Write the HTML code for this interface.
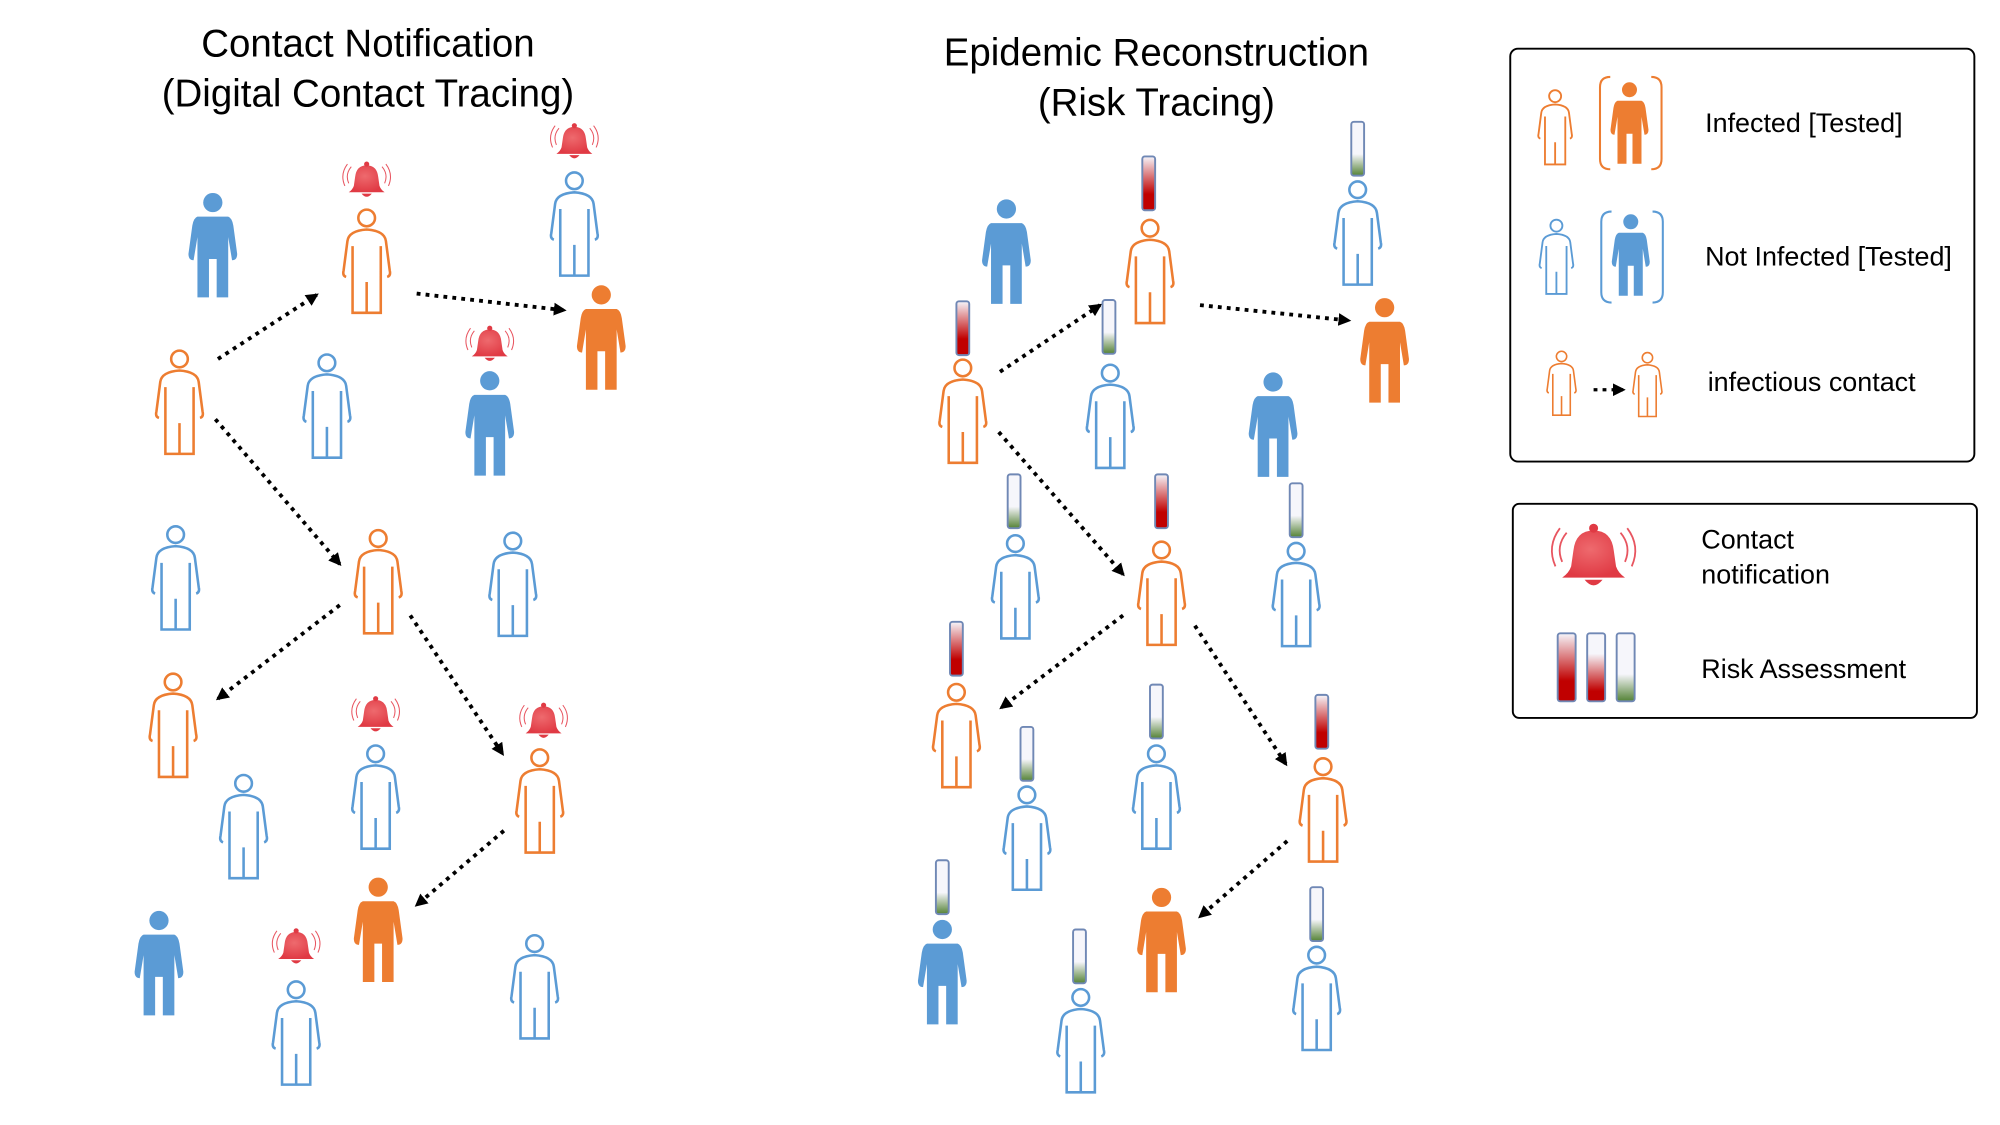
<!DOCTYPE html>
<html><head><meta charset="utf-8"><style>
html,body{margin:0;padding:0;background:#fff}
svg{display:block}
text{font-family:"Liberation Sans",sans-serif;fill:#000}
</style></head><body>
<svg id="fig" width="2000" height="1125" viewBox="0 0 1560 877.5" xmlns="http://www.w3.org/2000/svg">
<defs>
<marker id="ah" markerWidth="10" markerHeight="10" refX="8" refY="5" orient="auto" markerUnits="userSpaceOnUse"><path d="M0,0 L10,5 L0,10 Z" fill="#000"/></marker>
<linearGradient id="gRed" x1="0" y1="0" x2="0" y2="1"><stop offset="0" stop-color="#f6f6fb"/><stop offset="0.7" stop-color="#c00000"/><stop offset="1" stop-color="#c00000"/></linearGradient>
<linearGradient id="gRed2" x1="0" y1="0" x2="0" y2="1"><stop offset="0" stop-color="#f6f6fb"/><stop offset="0.3" stop-color="#f6f6fb"/><stop offset="0.85" stop-color="#c00000"/><stop offset="1" stop-color="#c00000"/></linearGradient>
<linearGradient id="gGreen" x1="0" y1="0" x2="0" y2="1"><stop offset="0" stop-color="#f6f6fb"/><stop offset="0.6" stop-color="#f6f6fb"/><stop offset="1" stop-color="#548235"/></linearGradient>
<radialGradient id="gBell" cx="0.45" cy="0.4" r="0.6"><stop offset="0" stop-color="#ee6a6e"/><stop offset="1" stop-color="#e03a44"/></radialGradient>
</defs>
<text x="287" y="44" font-size="30" text-anchor="middle">Contact Notification</text>
<text x="287" y="83" font-size="30" text-anchor="middle">(Digital Contact Tracing)</text>
<text x="902" y="51" font-size="30" text-anchor="middle">Epidemic Reconstruction</text>
<text x="902" y="90" font-size="30" text-anchor="middle">(Risk Tracing)</text>
<g id="marks"></g>
<rect x="1178" y="38" width="362" height="322" rx="6" fill="none" stroke="#000" stroke-width="1.5"/>
<rect x="1180" y="393" width="362" height="167" rx="5" fill="none" stroke="#000" stroke-width="1.5"/>
<text x="1330" y="103" font-size="21">Infected [Tested]</text>
<text x="1330" y="207" font-size="21">Not Infected [Tested]</text>
<text x="1332" y="305" font-size="21">infectious contact</text>
<text x="1327" y="428" font-size="21">Contact</text>
<text x="1327" y="455" font-size="21">notification</text>
<text x="1327" y="529" font-size="21">Risk Assessment</text>
<path d="M1256,60 Q1248,60 1248,68 L1248,124 Q1248,132 1256,132 M1288,60 Q1296,60 1296,68 L1296,124 Q1296,132 1288,132" fill="none" stroke="#ED7D31" stroke-width="1.6"/>
<path d="M1257,165 Q1249,165 1249,173 L1249,228 Q1249,236 1257,236 M1289,165 Q1297,165 1297,173 L1297,228 Q1297,236 1289,236" fill="none" stroke="#5B9BD5" stroke-width="1.6"/>
</svg>
<script>
const OR='#ED7D31', BL='#5B9BD5';
const peopleX=[166,286,448,469,140,255,382,137,295,400,135,293,421,190,295,124,231,417,
 785,897,1059,1080,751,866,993,792,906,1011,746,902,801,1032,735,906,1027,843];
const peopleY=[158,170,141,230,280,283,297,417,420,422,532,588,591,611,692,718,772,736,
 163,178,148,240,287,291,298,424,429,430,540,588,620,598,725,700,745,778];
const peopleKind=['f','o','o','f','o','o','f','o','o','o','o','o','o','o','f','f','o','o',
 'f','o','o','f','o','o','f','o','o','o','o','o','o','o','f','f','o','o'];
const peopleColor=['b','o','b','o','o','b','b','b','o','b','o','b','o','b','o','b','b','b',
 'b','o','b','o','o','b','b','b','o','b','o','b','b','o','b','o','b','b'];
const bellX=[286,448,382,293,424,231];
const bellY=[140,110,268,557,562,738];
const tubeX=[896,1059,751,865,791,906,1011,746,902,801,1031,735,1027,842];
const tubeTop=[122,95,235,234,370,370,377,485,534,567,542,671,692,725];
const tubeRisk=['r','g','r','g','g','r','g','r','g','g','r','g','g','g'];
const arrowFrom=[[170,280],[325,229],[168,327],[265,472],[320,480],[393,648],
 [780,290],[936,238],[779,337],[876,480],[932,488],[1004,656]];
const arrowTo=[[247,230],[440,242],[265,440],[170,545],[392,588],[325,706],
 [858,238],[1052,250],[876,448],[781,552],[1003,596],[936,715]];

const NS='http://www.w3.org/2000/svg';
const g=document.getElementById('marks');
const svg=document.getElementById('fig');
function mk(t,a,p){const e=document.createElementNS(NS,t);for(const k in a)e.setAttribute(k,a[k]);(p||g).appendChild(e);return e;}
function person(x,y,kind,col,s,parent){
  const c=col==='o'?OR:BL;
  const gr=mk('g',{transform:`translate(${x},${y}) scale(${s})`},parent);
  if(kind==='o'){
    mk('circle',{cx:0,cy:0,r:6.5,fill:'none',stroke:c,'stroke-width':2},gr);
    mk('path',{d:'M-16,46 Q-19,45 -18,41 L-15,18 Q-14,10 0,9 Q14,10 15,18 L18,41 Q19,45 16,46 M-11,22 L-11,74 L11,74 L11,22 M0,50 L0,74',fill:'none',stroke:c,'stroke-width':2},gr);
  } else {
    mk('circle',{cx:0,cy:0,r:7.5,fill:c},gr);
    mk('path',{d:'M-12,11 Q-15,12 -16,18 L-19,40 Q-19,45 -15,45 L-12,27 L-12,74 L-3,74 L-3,44 L3,44 L3,74 L12,74 L12,27 L15,45 Q19,45 19,40 L16,18 Q15,12 12,11 Z',fill:c},gr);
  }
  return gr;
}
function bell(x,y,s,parent){
  const gr=mk('g',{transform:`translate(${x},${y}) scale(${s})`},parent);
  mk('path',{d:'M0,-11 Q8,-11 9,-2 L10,5 Q11,8 14,10 L-14,10 Q-11,8 -10,5 L-9,-2 Q-8,-11 0,-11 Z',fill:'url(#gBell)'},gr);
  mk('path',{d:'M-4,11 Q0,16 4,11 Z',fill:'#e03a44'},gr);
  mk('circle',{cx:0,cy:-12,r:2,fill:'#e03a44'},gr);
  mk('path',{d:'M-12,-10 Q-17,-4 -14,3 M-15,-12 Q-21,-4 -17,5 M12,-10 Q17,-4 14,3 M15,-12 Q21,-4 17,5',fill:'none',stroke:'#e85560','stroke-width':0.8},gr);
  return gr;
}
function tube(x,top,risk,h,w,parent){
  const fill=risk==='r'?'url(#gRed)':risk==='r2'?'url(#gRed2)':'url(#gGreen)';
  return mk('rect',{x:x-w/2,y:top,width:w,height:h,rx:2,fill:fill,stroke:'#7088b5','stroke-width':1.5},parent);
}

for(let i=0;i<arrowFrom.length;i++){
  const a=mk('line',{x1:arrowFrom[i][0],y1:arrowFrom[i][1],x2:arrowTo[i][0],y2:arrowTo[i][1],stroke:'#000','stroke-width':3,'stroke-dasharray':'3 4','marker-end':'url(#ah)'});
  
  
}
for(let i=0;i<peopleX.length;i++){
  const p=person(peopleX[i],peopleY[i],peopleKind[i],peopleColor[i],1);
  
  
}
for(let i=0;i<bellX.length;i++){
  const b=bell(bellX[i],bellY[i],1);
  
  
}
for(let i=0;i<tubeX.length;i++){
  const t=tube(tubeX[i],tubeTop[i],tubeRisk[i],42,10);
  
  
}
const lg=mk('g',{},svg);
let e;
e=person(1213,75,'o','o',0.72,lg);


e=person(1271,70,'f','o',0.78,lg);


e=person(1214,176,'o','b',0.72,lg);


e=person(1272,173,'f','b',0.78,lg);


e=person(1218,278,'o','o',0.62,lg);


e=person(1285,279,'o','o',0.62,lg);


e=mk('line',{x1:1243,y1:304,x2:1266,y2:304,stroke:'#000','stroke-width':2.5,'stroke-dasharray':'3 4','marker-end':'url(#ah)'},lg);


e=bell(1243,433,1.75,lg);


e=tube(1222,494,'r',53,14,lg);


e=tube(1245,494,'r2',53,14,lg);


e=tube(1268,494,'g',53,14,lg);


</script>
</body></html>
